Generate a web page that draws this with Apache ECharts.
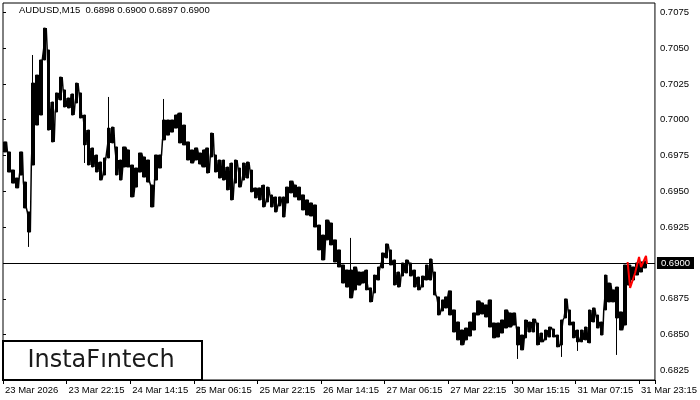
<!DOCTYPE html>
<html><head><meta charset="utf-8">
<script src="https://cdn.jsdelivr.net/npm/echarts@6/dist/echarts.min.js"></script>
<style>html,body{margin:0;padding:0;background:#fff}#c{width:700px;height:400px}</style>
</head><body><div id="c"></div>
<script>
// Hourly (4 x M15) price ranges
const highs = [
0.69845,0.69775,0.69649,0.69593,0.69775,0.69565,0.69356,0.70256,0.70312,0.70417,
0.70640,0.70487,0.70124,0.70187,0.70298,0.70208,0.70152,0.70180,0.70256,0.70187,
0.70033,0.69928,0.69803,0.69754,0.69705,0.69733,0.69942,0.69949,0.69810,0.69719,
0.69810,0.69789,0.69684,0.69663,0.69768,0.69740,0.69719,0.69544,0.69754,0.69754,
0.69998,0.69998,0.69998,0.70033,0.70047,0.69963,0.69845,0.69789,0.69803,0.69768,
0.69789,0.69803,0.69907,0.69754,0.69719,0.69719,0.69670,0.69698,0.69719,0.69663,
0.69698,0.69705,0.69649,0.69524,0.69524,0.69544,0.69530,0.69475,0.69461,0.69461,
0.69461,0.69530,0.69572,0.69544,0.69530,0.69475,0.69440,0.69419,0.69405,0.69265,
0.69195,0.69300,0.69279,0.69161,0.69091,0.68986,0.68951,0.68951,0.68972,0.68937,
0.68937,0.68951,0.68826,0.68916,0.68972,0.69070,0.69133,0.69091,0.69021,0.68937,
0.69000,0.69021,0.69000,0.68951,0.68902,0.68909,0.68986,0.69028,0.68937,0.68763,
0.68742,0.68763,0.68805,0.68672,0.68588,0.68532,0.68546,0.68588,0.68651,0.68735,
0.68721,0.68707,0.68742,0.68581,0.68581,0.68602,0.68672,0.68651,0.68651,0.68553,
0.68497,0.68602,0.68588,0.68609,0.68581,0.68511,0.68532,0.68553,0.68539,0.68497,
0.68602,0.68749,0.68672,0.68588,0.68532,0.68532,0.68553,0.68672,0.68686,0.68637,
0.68588,0.68916,0.68860,0.68812,0.68832,0.68658,0.68986,0.68986,0.68972,0.69000,
0.69007,0.69014
];
const lows = [
0.69775,0.69635,0.69558,0.69524,0.69614,0.69384,0.69216,0.69684,0.69963,0.70033,
0.70417,0.69928,0.69845,0.70054,0.70138,0.70089,0.70082,0.70033,0.70117,0.70012,
0.69824,0.69684,0.69670,0.69635,0.69579,0.69614,0.69733,0.69838,0.69614,0.69579,
0.69670,0.69670,0.69461,0.69530,0.69635,0.69600,0.69565,0.69391,0.69579,0.69663,
0.69859,0.69893,0.69914,0.69942,0.69838,0.69824,0.69719,0.69698,0.69719,0.69691,
0.69670,0.69628,0.69740,0.69635,0.69593,0.69579,0.69510,0.69440,0.69558,0.69530,
0.69579,0.69593,0.69496,0.69454,0.69440,0.69391,0.69426,0.69391,0.69356,0.69398,
0.69321,0.69419,0.69489,0.69461,0.69440,0.69370,0.69335,0.69328,0.69251,0.69091,
0.69021,0.69161,0.69126,0.69007,0.68972,0.68860,0.68832,0.68756,0.68812,0.68846,
0.68860,0.68812,0.68728,0.68791,0.68881,0.68965,0.69035,0.68986,0.68846,0.68832,
0.68909,0.68930,0.68909,0.68832,0.68812,0.68832,0.68881,0.68881,0.68777,0.68637,
0.68665,0.68686,0.68637,0.68518,0.68463,0.68428,0.68463,0.68490,0.68532,0.68637,
0.68644,0.68623,0.68553,0.68477,0.68483,0.68511,0.68546,0.68553,0.68567,0.68428,
0.68393,0.68477,0.68518,0.68518,0.68428,0.68449,0.68463,0.68483,0.68483,0.68414,
0.68428,0.68616,0.68567,0.68477,0.68449,0.68449,0.68463,0.68442,0.68588,0.68546,
0.68497,0.68672,0.68728,0.68728,0.68616,0.68532,0.68567,0.68846,0.68881,0.68916,
0.68937,0.68965
];
// isolated spikes beyond the band: [sample index, price]
const spikes = [
[6,0.69112],[7,0.70452],[20,0.69698],[26,0.70159],[40,0.70145],
[87,0.69175],[129,0.68330],[140,0.68344],[144,0.68386],[154,0.68358]
];
// time-axis labels every 16 hourly samples
const tickLabels = ["23 Mar 2026","23 Mar 22:15","24 Mar 14:15","25 Mar 06:15","25 Mar 22:15",
"26 Mar 14:15","27 Mar 06:15","27 Mar 22:15","30 Mar 15:15","31 Mar 07:15","31 Mar 23:15"];
const categoryCount = 164;
const categories = Array.from({length: categoryCount}, (_, i) => i);
// price-axis labels
const yTicks = [0.6825,0.6850,0.6875,0.6900,0.6925,0.6950,0.6975,0.7000,0.7025,0.7050,0.7075];
const yMin = 0.68183, yMax = 0.70815;
// red pattern overlay: M15 bar positions and prices
const patternBars = [628.5, 631, 636, 640, 642, 647, 648];
const patternPrices = [0.69007, 0.68826, 0.68930, 0.69042, 0.68972, 0.69049, 0.68993];
const bidPrice = 0.6900;
const titleText = "AUDUSD,M15  0.6898 0.6900 0.6897 0.6900";

const BARS_PER_SAMPLE = 4;
const spikeMap = {};
spikes.forEach(s => { spikeMap[s[0]] = s[1]; });
const candles = highs.map((h, i) => {
  const l = lows[i];
  const s = spikeMap[i];
  const lo = (s !== undefined && s < l) ? s : l;
  const hi = (s !== undefined && s > h) ? s : h;
  return [l, h, lo, hi];
});
// zig-zag path through each hourly range, connecting neighbouring ranges
const path = [];
highs.forEach((h, i) => {
  const l = lows[i];
  const mid = (h + l) / 2;
  const prevMid = i > 0 ? (highs[i - 1] + lows[i - 1]) / 2 : mid;
  const up = mid >= prevMid;
  const x0 = i * BARS_PER_SAMPLE + 0.5, x1 = i * BARS_PER_SAMPLE + 3.5;
  path.push([x0, up ? l : h]);
  path.push([x1, up ? h : l]);
});
const pattern = patternBars.map((b, i) => [b, patternPrices[i]]);

const FONT = 'Liberation Sans';
const FS = 9.5;
const chart = echarts.init(document.getElementById('c'), null, {renderer: 'canvas'});
chart.setOption({
  animation: false,
  backgroundColor: '#fff',
  title: {
    text: titleText, left: 19, top: 5, padding: 0,
    textStyle: {fontSize: FS, fontWeight: 'normal', color: '#000', fontFamily: FONT}
  },
  grid: {left: 3, right: 41, top: 3, bottom: 20, show: true, borderColor: '#000', borderWidth: 1, backgroundColor: 'transparent'},
  xAxis: [{
    type: 'category', data: categories, boundaryGap: true,
    axisLine: {show: true, lineStyle: {color: '#000'}},
    axisTick: {show: true, length: 4, interval: (i) => i % 16 === 0, lineStyle: {color: '#000'}},
    axisLabel: {
      interval: (i) => i % 16 === 0,
      formatter: (v, i) => tickLabels[i / 16] || '',
      align: 'left', margin: 5, color: '#000', fontSize: FS, fontFamily: FONT
    },
    splitLine: {show: false}
  }, {
    type: 'value', min: 0, max: categoryCount * BARS_PER_SAMPLE, show: false
  }],
  yAxis: {
    type: 'value', position: 'right', min: yMin, max: yMax, scale: true,
    axisLine: {show: false},
    axisTick: {show: true, length: 3, customValues: yTicks, lineStyle: {color: '#000'}},
    axisLabel: {customValues: yTicks.filter(v => v !== bidPrice), formatter: v => v.toFixed(4), color: '#000', fontSize: FS, fontFamily: FONT, margin: 5},
    splitLine: {show: false}
  },
  series: [{
    type: 'candlestick', xAxisIndex: 0, yAxisIndex: 0,
    data: candles, barWidth: 3,
    itemStyle: {color: '#000', color0: '#000', borderColor: '#000', borderColor0: '#000', borderWidth: 1},
    markLine: {
      silent: true, symbol: ['none', 'none'],
      data: [{yAxis: bidPrice}],
      lineStyle: {color: '#000', width: 1, type: 'solid'},
      label: {position: 'end', formatter: bidPrice.toFixed(4), backgroundColor: '#000', color: '#fff',
        padding: [1, 4, 1, 4], fontSize: FS, fontFamily: FONT, distance: 2}
    }
  }, {
    type: 'line', xAxisIndex: 1, yAxisIndex: 0, data: path, symbol: 'none', z: 3,
    lineStyle: {color: '#000', width: 1.5}
  }, {
    type: 'line', xAxisIndex: 1, yAxisIndex: 0, data: pattern, symbol: 'none', z: 5,
    lineStyle: {color: '#ff0000', width: 2}
  }],
  graphic: [{
    type: 'rect', shape: {x: 3, y: 341, width: 199, height: 39}, z: 100,
    style: {fill: '#fff', stroke: '#000', lineWidth: 2}
  }, {
    type: 'text', x: 101, y: 361, z: 101,
    style: {text: 'InstaFıntech', fontSize: 24, fontFamily: 'DejaVu Sans', fill: '#1a1a1a', align: 'center', verticalAlign: 'middle'}
  }]
});
</script></body></html>
